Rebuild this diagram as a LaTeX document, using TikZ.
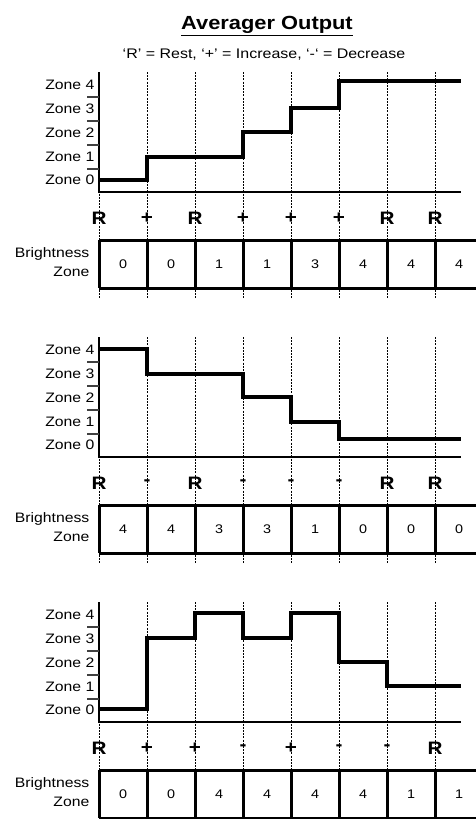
\documentclass[tikz,border=0pt]{standalone}
\usepackage{fontspec}
\setmainfont{Liberation Sans}[FakeStretch=1.15]
\begin{document}
\begin{tikzpicture}[x=1pt,y=-1pt,
  dashv/.style={line width=0.8pt, dash pattern=on 2pt off 1.2pt},
  axisline/.style={line width=1.8pt},
  stepline/.style={line width=3.5pt, line join=miter},
  cellline/.style={line width=3pt},
  zonetick/.style={line width=1.3pt, black!75},
  zlabel/.style={anchor=east, inner sep=0pt, font=\fontsize{13.7}{15}\selectfont},
  blabel/.style={anchor=east, inner sep=0pt, align=right, font=\fontsize{13.7}{19}\selectfont},
  signlab/.style={inner sep=0pt, font=\bfseries\fontsize{18}{20}\selectfont},
  cellnum/.style={inner sep=0pt, font=\fontsize{12.5}{14}\selectfont}]
\useasboundingbox (0,0) rectangle (476,819);
\clip (0,0) rectangle (476,819);

\node[anchor=base, inner sep=0pt, font=\bfseries\fontsize{19}{22}\selectfont] (title) at (267,29.5) {\underline{Averager Output}};
\node[anchor=base, inner sep=0pt, font=\fontsize{13.9}{16}\selectfont] (subtitle) at (264,58) {‘R’ = Rest, ‘+’ = Increase, ‘-‘ = Decrease};

\newcommand{\panelbody}[4]{%
  % #1 panel id, #2 step path, #3 signs, #4 values
  \foreach \i in {0,...,7} {
    \coordinate (dt#1\i) at (99+48*\i,0);
    \coordinate (db#1\i) at (99+48*\i,226);
    \draw[dashv] (dt#1\i) -- (db#1\i);
  }
  \coordinate (ax#1top) at (99,0);
  \coordinate (ax#1org) at (99,120);
  \coordinate (ax#1end) at (461,120);
  \draw[axisline] (ax#1top) -- (ax#1org) -- (ax#1end);
  \foreach \y [count=\k] in {25,49,73,97} {
    \coordinate (tk#1a\k) at (87,\y);
    \coordinate (tk#1b\k) at (99,\y);
    \draw[zonetick] (tk#1a\k) -- (tk#1b\k);
  }
  \foreach \y/\z in {13/4,37/3,61/2,85/1,108/0} {
    \node[zlabel] (zl#1\z) at (94.5,\y) {Zone \z};
  }
  \draw[stepline] #2;
  \foreach \s [count=\k from 0] in {#3} {
    \node[signlab] (sg#1\k) at (99+48*\k,146) {\s};
  }
  \node[blabel] (bz#1) at (89.5,190.5) {Brightness\\Zone};
  \coordinate (tl#1) at (99,168);
  \coordinate (tr#1) at (490,168);
  \coordinate (bl#1) at (99,216);
  \coordinate (br#1) at (490,216);
  \draw[cellline] (tl#1) -- (tr#1);
  \draw[cellline] (bl#1) -- (br#1);
  \foreach \i in {0,...,7} {
    \coordinate (ct#1\i) at (99+48*\i,168);
    \coordinate (cb#1\i) at (99+48*\i,216);
    \draw[cellline] (ct#1\i) -- (cb#1\i);
  }
  \foreach \v [count=\k from 0] in {#4} {
    \node[cellnum] (cv#1\k) at (123+48*\k,192) {\v};
  }
}

\begin{scope}[shift={(0,72)}]
\panelbody{a}{(99,108) -- (147,108) -- (147,85) -- (243,85) -- (243,60) -- (291,60) -- (291,36) -- (339,36) -- (339,9) -- (461,9)}{R,+,R,+,+,+,R,R}{0,0,1,1,3,4,4,4}
\end{scope}

\begin{scope}[shift={(0,337)}]
\panelbody{b}{(99,12) -- (147,12) -- (147,37) -- (243,37) -- (243,60) -- (291,60) -- (291,85) -- (339,85) -- (339,102) -- (461,102)}{R,-,R,-,-,-,R,R}{4,4,3,3,1,0,0,0}
\end{scope}

\begin{scope}[shift={(0,602)}]
\panelbody{c}{(99,107) -- (147,107) -- (147,36) -- (195,36) -- (195,11) -- (243,11) -- (243,36) -- (291,36) -- (291,11) -- (339,11) -- (339,60) -- (387,60) -- (387,84) -- (461,84)}{R,+,+,-,+,-,-,R}{0,0,4,4,4,4,1,1}
\end{scope}
\end{tikzpicture}
\end{document}
